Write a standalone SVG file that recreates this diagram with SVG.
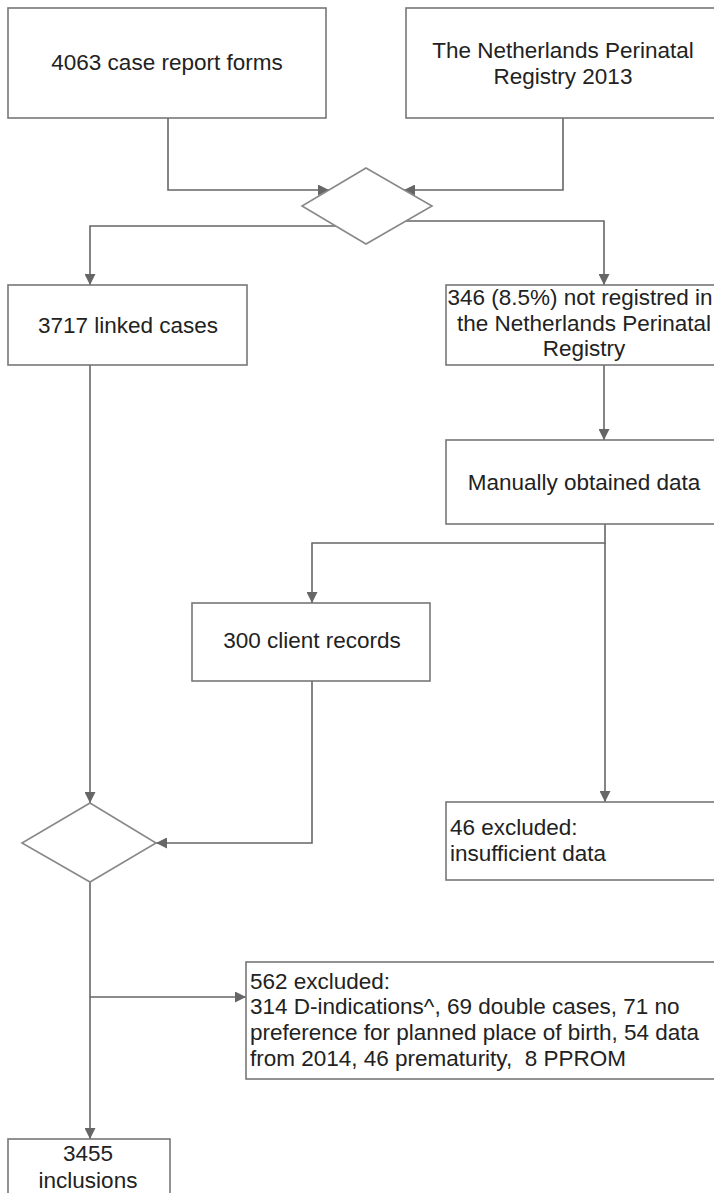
<svg xmlns="http://www.w3.org/2000/svg" width="714" height="1193" viewBox="0 0 714 1193">
<style>
.box{fill:#fff;stroke:#777;stroke-width:1.6}
.dia{fill:#fff;stroke:#888;stroke-width:1.6}
.t{font-family:"Liberation Sans",Arial,sans-serif;font-size:22.5px;fill:#222}
.c{text-anchor:middle}
.ln{fill:none;stroke:#666;stroke-width:1.6}
</style>
<defs>
<marker id="ah" viewBox="0 0 10 10" refX="10" refY="5" markerWidth="11" markerHeight="11" markerUnits="userSpaceOnUse" orient="auto">
<path d="M0,0 L10,5 L0,10 Z" fill="#666"/>
</marker>
</defs>
<rect width="714" height="1193" fill="#fff"/>
<g id="connectors">
<path class="ln" d="M168,118 V190 H329" marker-end="url(#ah)"/>
<path class="ln" d="M563,118 V190 H404" marker-end="url(#ah)"/>
<path class="ln" d="M336,226 H90 V285" marker-end="url(#ah)"/>
<path class="ln" d="M405,221 H604 V285" marker-end="url(#ah)"/>
<path class="ln" d="M604,365 V440" marker-end="url(#ah)"/>
<path class="ln" d="M605,524 V543 H312 V603" marker-end="url(#ah)"/>
<path class="ln" d="M605,543 V802" marker-end="url(#ah)"/>
<path class="ln" d="M312,681 V843 H156" marker-end="url(#ah)"/>
<path class="ln" d="M90,365 V803" marker-end="url(#ah)"/>
<path class="ln" d="M90,882 V1139" marker-end="url(#ah)"/>
<path class="ln" d="M90,997 H246" marker-end="url(#ah)"/>
</g>
<g id="n1"><rect class="box" x="8" y="8" width="318" height="110"/><text class="t c" x="167" y="70">4063 case report forms</text></g>
<g id="n2"><rect class="box" x="406" y="8" width="316" height="110"/><text class="t c" x="563" y="58">The Netherlands Perinatal</text><text class="t c" x="563" y="84">Registry 2013</text></g>
<g id="d1"><polygon class="dia" points="366,168 432,206 366,244 302,206"/></g>
<g id="n3"><rect class="box" x="8" y="285" width="239" height="80"/><text class="t c" x="128" y="333">3717 linked cases</text></g>
<g id="n4"><rect class="box" x="446" y="285" width="276" height="80"/><text class="t c" x="580" y="305">346 (8.5%) not registred in</text><text class="t c" x="584" y="331">the Netherlands Perinatal</text><text class="t c" x="584" y="356">Registry</text></g>
<g id="n5"><rect class="box" x="446" y="440" width="276" height="84"/><text class="t c" x="584" y="490">Manually obtained data</text></g>
<g id="n6"><rect class="box" x="192" y="603" width="238" height="78"/><text class="t c" x="312" y="648">300 client records</text></g>
<g id="d2"><polygon class="dia" points="90,803 156,843 90,882 22,843"/></g>
<g id="n7"><rect class="box" x="446" y="802" width="276" height="78"/><text class="t" x="450" y="835">46 excluded:</text><text class="t" x="450" y="861">insufficient data</text></g>
<g id="n9"><rect class="box" x="246" y="962" width="476" height="117"/><text class="t" x="250" y="989">562 excluded:</text><text class="t" x="250" y="1014">314 D-indications^, 69 double cases, 71 no</text><text class="t" x="250" y="1040">preference for planned place of birth, 54 data</text><text class="t" x="250" y="1066" xml:space="preserve">from 2014, 46 prematurity,  8 PPROM</text></g>
<g id="n8"><rect class="box" x="8" y="1139" width="162" height="60"/><text class="t c" x="88" y="1161">3455</text><text class="t c" x="88" y="1188">inclusions</text></g>
</svg>
